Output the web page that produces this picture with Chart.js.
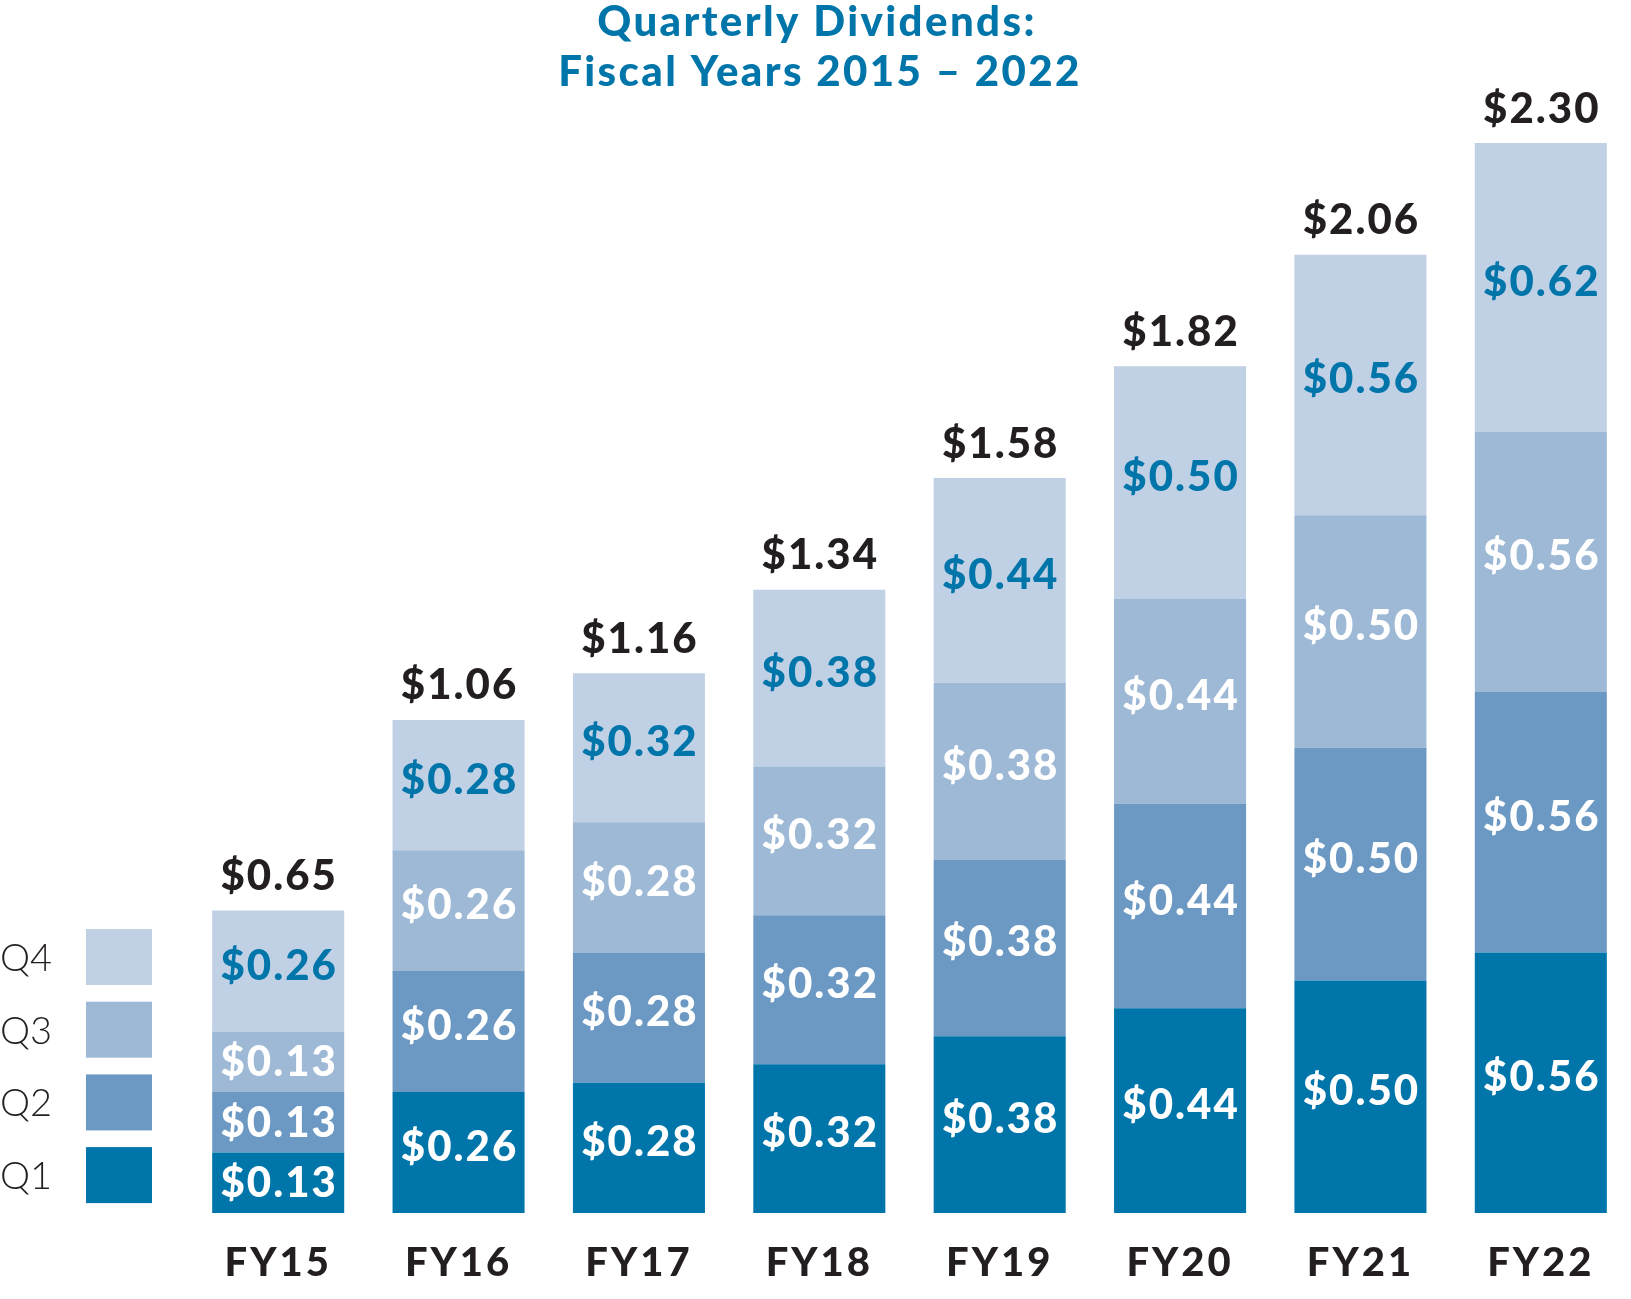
<!DOCTYPE html>
<html>
<head>
<meta charset="utf-8">
<script src="https://cdn.jsdelivr.net/npm/chart.js@4/dist/chart.umd.min.js"></script>
<style>
  html, body { margin: 0; padding: 0; background: #ffffff; }
  #wrap { width: 1631px; height: 1299px; position: relative; }
</style>
</head>
<body>
<div id="wrap"><canvas id="c"></canvas></div>
<script>
const categories = ["FY15", "FY16", "FY17", "FY18", "FY19", "FY20", "FY21", "FY22"];
const q1 = [0.13, 0.26, 0.28, 0.32, 0.38, 0.44, 0.50, 0.56];
const q2 = [0.13, 0.26, 0.28, 0.32, 0.38, 0.44, 0.50, 0.56];
const q3 = [0.13, 0.26, 0.28, 0.32, 0.38, 0.44, 0.50, 0.56];
const q4 = [0.26, 0.28, 0.32, 0.38, 0.44, 0.50, 0.56, 0.62];
const seriesLabels = ["Q1", "Q2", "Q3", "Q4"];
const titleLines = ["Quarterly Dividends:", "Fiscal Years 2015 \u2013 2022"];

const BLUE = "#0075AA";
const colors = ["#0075AA", "#6C99C3", "#9EB9D6", "#C0D0E5"];
const labelColors = ["#ffffff", "#ffffff", "#ffffff", BLUE];
const DARK = "#231F20";
const FONT = "Lato, 'Open Sans', sans-serif";

const fmt = v => "$" + v.toFixed(2);

const spacing = {
  id: "spacing",
  beforeDraw(chart) {
    try { chart.ctx.letterSpacing = "3px"; } catch (e) {}
  }
};

const overlay = {
  id: "overlay",
  afterDatasetsDraw(chart) {
    const ctx = chart.ctx;
    ctx.save();
    ctx.textAlign = "center";
    ctx.textBaseline = "middle";
    ctx.font = "900 42px " + FONT;
    try { ctx.letterSpacing = "2px"; } catch (e) {}
    const n = chart.data.labels.length;
    chart.data.datasets.forEach((ds, di) => {
      const meta = chart.getDatasetMeta(di);
      meta.data.forEach((bar, i) => {
        const h = bar.base - bar.y;
        const mid = (bar.y + bar.base) / 2 + (h > 80 ? -5 : 1);
        ctx.fillStyle = labelColors[di];
        ctx.fillText(fmt(ds.data[i]), bar.x + 1, mid);
      });
    });
    // totals
    const lastMeta = chart.getDatasetMeta(chart.data.datasets.length - 1);
    for (let i = 0; i < n; i++) {
      let total = 0;
      chart.data.datasets.forEach(ds => { total += ds.data[i]; });
      const bar = lastMeta.data[i];
      ctx.fillStyle = DARK;
      ctx.fillText(fmt(total), bar.x + 1, bar.y - 34);
    }
    // title
    ctx.fillStyle = BLUE;
    ctx.textBaseline = "alphabetic";
    ctx.font = "900 42px " + FONT;
    try { ctx.letterSpacing = "2.4px"; } catch (e) {}
    ctx.fillText(titleLines[0], 817, 36);
    ctx.fillText(titleLines[1], 820, 86);
    // legend (Q4 at top)
    ctx.textAlign = "left";
    ctx.font = "300 38px " + FONT;
    try { ctx.letterSpacing = "0px"; } catch (e) {}
    const dsCount = chart.data.datasets.length;
    for (let k = 0; k < dsCount; k++) {
      const di = dsCount - 1 - k;
      const y = 929 + k * 72.7;
      ctx.fillStyle = colors[di];
      ctx.fillRect(86, y, 66, 56);
      ctx.fillStyle = DARK;
      ctx.fillText(chart.data.datasets[di].label, 0, y + 42);
    }
    ctx.restore();
  }
};

const datasets = [q1, q2, q3, q4].map((d, i) => ({
  label: seriesLabels[i],
  data: d,
  backgroundColor: colors[i],
  borderWidth: 0,
  categoryPercentage: 1.0,
  barPercentage: 0.732
}));

new Chart(document.getElementById("c"), {
  type: "bar",
  data: { labels: categories, datasets },
  options: {
    responsive: true,
    maintainAspectRatio: false,
    animation: false,
    events: [],
    layout: { padding: { left: 188, right: 0, top: 0, bottom: 0 } },
    plugins: { legend: { display: false }, title: { display: false }, tooltip: { enabled: false } },
    scales: {
      x: {
        stacked: true,
        grid: { display: false, drawTicks: false },
        border: { display: false },
        ticks: { color: DARK, font: { family: FONT, size: 40, weight: "900", lineHeight: 1.2 }, padding: 26 },
        afterFit(scale) { scale.height = 86; }
      },
      y: {
        stacked: true,
        display: false,
        min: 0,
        max: 2.6075
      }
    }
  },
  plugins: [spacing, overlay]
});
</script>
</body>
</html>
